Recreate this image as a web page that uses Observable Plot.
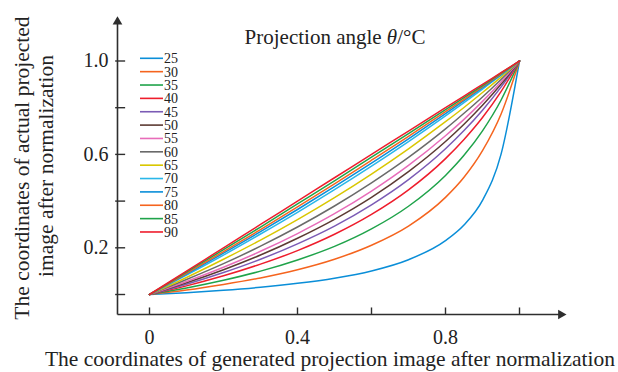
<!DOCTYPE html>
<html><head><meta charset="utf-8">
<script src="https://cdn.jsdelivr.net/npm/d3@7"></script>
<script src="https://cdn.jsdelivr.net/npm/@observablehq/plot@0.6"></script>
<style>
body{margin:0;background:#fff}
#chart{position:relative;width:618px;height:372px}
</style>
</head><body><div id="chart"></div>
<script>
// ---- data ----
const angles = [25, 30, 35, 40, 45, 50, 55, 60, 65, 70, 75, 80, 85, 90];
const xValues = [0, 0.1, 0.2, 0.3, 0.4, 0.5, 0.6, 0.7, 0.8, 0.85, 0.9, 0.95, 1];
const y25 = [0, 0.008, 0.018, 0.031, 0.048, 0.070, 0.101, 0.149, 0.231, 0.298, 0.403, 0.600, 1];
const y30 = [0, 0.019, 0.043, 0.071, 0.106, 0.151, 0.211, 0.293, 0.416, 0.502, 0.616, 0.772, 1];
const y35 = [0, 0.028, 0.061, 0.100, 0.148, 0.206, 0.281, 0.378, 0.510, 0.596, 0.701, 0.832, 1];
const y40 = [0, 0.037, 0.080, 0.130, 0.188, 0.258, 0.343, 0.448, 0.582, 0.664, 0.758, 0.869, 1];
const y45 = [0, 0.044, 0.094, 0.151, 0.217, 0.293, 0.384, 0.492, 0.624, 0.702, 0.789, 0.888, 1];
const y50 = [0, 0.050, 0.106, 0.169, 0.241, 0.322, 0.416, 0.526, 0.655, 0.729, 0.810, 0.900, 1];
const y55 = [0, 0.056, 0.117, 0.185, 0.261, 0.346, 0.443, 0.553, 0.680, 0.750, 0.827, 0.910, 1];
const y60 = [0, 0.064, 0.132, 0.207, 0.289, 0.379, 0.478, 0.587, 0.709, 0.776, 0.846, 0.921, 1];
const y65 = [0, 0.073, 0.151, 0.233, 0.321, 0.415, 0.516, 0.624, 0.740, 0.801, 0.865, 0.931, 1];
const y70 = [0, 0.083, 0.169, 0.259, 0.352, 0.449, 0.550, 0.655, 0.765, 0.822, 0.880, 0.939, 1];
const y75 = [0, 0.087, 0.177, 0.269, 0.364, 0.462, 0.563, 0.667, 0.775, 0.830, 0.886, 0.942, 1];
const y80 = [0, 0.091, 0.184, 0.278, 0.375, 0.474, 0.575, 0.677, 0.783, 0.836, 0.890, 0.945, 1];
const y85 = [0, 0.096, 0.192, 0.289, 0.388, 0.487, 0.588, 0.689, 0.792, 0.843, 0.895, 0.948, 1];
const y90 = [0, 0.100, 0.200, 0.300, 0.400, 0.500, 0.600, 0.700, 0.800, 0.850, 0.900, 0.950, 1];
const series = [y25, y30, y35, y40, y45, y50, y55, y60, y65, y70, y75, y80, y85, y90];
const colors = ["#0a8ed8", "#f5641e", "#1fa34a", "#ee1d2c", "#7b5bb5", "#5c3a33", "#e86cb9", "#6a6a6a",
                "#d9c700", "#2ab7e9", "#0a8ed8", "#f5641e", "#1fa34a", "#ee1d2c"];
const xTicks = [0, 0.2, 0.4, 0.6, 0.8, 1.0];
const xTickLabels = ["0", "", "0.4", "", "0.8", ""];
const yTicks = [0, 0.2, 0.4, 0.6, 0.8, 1.0];
const yTickLabels = ["", "0.2", "", "0.6", "", "1.0"];
const legendTitle = ["Projection angle ", "θ", "/°C"];
const xTitle = "The coordinates of generated projection image after normalization";
const yTitleLines = ["The coordinates of actual projected", "image after normalization"];

// ---- table for Plot ----
const rows = [];
angles.forEach((a, i) => xValues.forEach((x, j) => rows.push({angle: String(a), x, y: series[i][j]})));

const FONT = "'Liberation Serif', 'Times New Roman', serif";
const AX = "#2e2e2e";
// axis extents (data units)
const X0 = -0.0865, X1 = 1.116, Y0 = -0.0857, Y1 = 1.182;

const plot = Plot.plot({
  width: 618, height: 372,
  x: {domain: [0, 1], range: [149, 519], axis: null},
  y: {domain: [0, 1], range: [294, 60.5], axis: null},
  color: {domain: angles.map(String), range: colors},
  style: {fontFamily: FONT, background: "white", color: "#222"},
  marks: [
    Plot.line(rows, {x: "x", y: "y", z: "angle", stroke: "angle", curve: "monotone-x", strokeWidth: 1.5}),
    // axes lines
    Plot.link([0], {x1: X0, x2: X1, y1: Y0, y2: Y0, stroke: AX, strokeWidth: 1.6}),
    Plot.link([0], {x1: X0, x2: X0, y1: Y0, y2: Y1, stroke: AX, strokeWidth: 1.6}),
    Plot.dot([0], {x: X0, y: 1.168, symbol: "triangle", r: 3.6, fill: AX, stroke: null}),
    Plot.dot([0], {x: 1.112, y: Y0, symbol: "triangle", r: 3.6, fill: AX, stroke: null, rotate: 90}),
    // ticks
    Plot.ruleX(xTicks, {x: d => d, y1: Y0, y2: Y0 + 0.028, stroke: AX, strokeWidth: 1.4}),
    Plot.ruleY(yTicks, {y: d => d, x1: X0 - 0.005, x2: X0 + 0.022, stroke: AX, strokeWidth: 1.4}),
    // tick labels
    Plot.text(xTicks, {x: d => d, y: Y0, text: (d, i) => xTickLabels[i], dy: 23, fontSize: 20, fill: "#222"}),
    Plot.text(yTicks, {x: X0, y: d => d, text: (d, i) => yTickLabels[i], dx: -9, textAnchor: "end", fontSize: 20, fill: "#222"})
  ]
});
document.getElementById("chart").appendChild(plot);

// ---- titles and legend (text) ----
const svg = d3.select(plot);
const t = svg.append("text").attr("x", 335).attr("y", 44).attr("text-anchor", "middle")
  .attr("font-size", 21).attr("font-family", FONT).attr("fill", "#222");
t.append("tspan").text(legendTitle[0]);
t.append("tspan").attr("font-style", "italic").text(legendTitle[1]);
t.append("tspan").text(legendTitle[2]);

svg.append("text").attr("x", 330).attr("y", 366).attr("text-anchor", "middle")
  .attr("font-size", 21.5).attr("font-family", FONT).attr("fill", "#222").text(xTitle);

[[29, 168], [53, 166]].forEach(([x, y], i) => {
  svg.append("text").attr("transform", `translate(${x},${y}) rotate(-90)`).attr("text-anchor", "middle")
    .attr("font-size", 21.5).attr("font-family", FONT).attr("fill", "#222").text(yTitleLines[i]);
});

const lg = svg.append("g");
angles.forEach((a, i) => {
  const y = 58.3 + 13.36 * i;
  lg.append("line").attr("x1", 140).attr("x2", 163).attr("y1", y).attr("y2", y)
    .attr("stroke", colors[i]).attr("stroke-width", 1.6);
  lg.append("text").attr("x", 171).attr("y", y).attr("dy", "0.35em")
    .attr("font-size", 14).attr("font-family", FONT).attr("fill", "#222").text(a);
});
</script>
</body></html>
